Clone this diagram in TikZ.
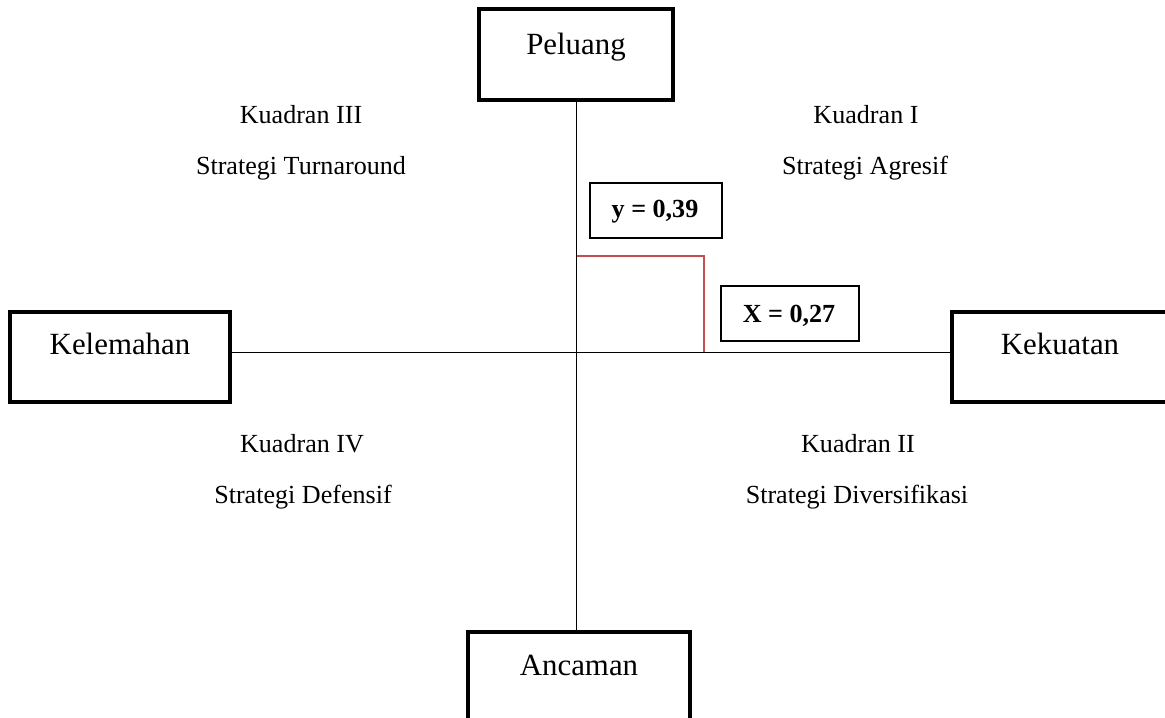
\documentclass[tikz,border=0pt]{standalone}
\usepackage{fontspec}
\setmainfont{Liberation Serif}
\usetikzlibrary{fit}
\definecolor{redline}{RGB}{192,80,77}
\tikzset{
  bigbox/.style={draw=black, line width=1.85pt, inner sep=0pt},
  valbox/.style={draw=black, line width=0.6pt, inner sep=0pt},
  bigtxt/.style={font=\fontsize{14.2}{16}\selectfont, anchor=base, inner sep=0pt},
  smalltxt/.style={font=\fontsize{12}{14}\selectfont, anchor=base, inner sep=0pt},
  valtxt/.style={font=\fontsize{12}{14}\selectfont\bfseries, anchor=base, inner sep=0pt},
  axis/.style={draw=black, line width=0.9pt},
  redaxis/.style={draw=redline, line width=0.75pt},
}
\begin{document}
\begin{tikzpicture}[x=0.46pt, y=-0.46pt]
\useasboundingbox (0,0) rectangle (1165,718);
\clip (0,0) rectangle (1165,718);
\fill[white] (0,0) rectangle (1165,718);
% origin of axes
\coordinate (O) at (576.5,352.5);
% outer boxes
\node[bigbox, fit={(479,9) (673,100)}] (pel) {};
\node[bigtxt] (pelt) at (576,55) {Peluang};
\node[bigbox, fit={(10,312) (230,402)}] (kel) {};
\node[bigtxt] (kelt) at (120,355) {Kelemahan};
\node[bigbox, fit={(952,312) (1180,402)}] (kek) {};
\node[bigtxt] (kekt) at (1060,355) {Kekuatan};
\node[bigbox, fit={(468,632) (690,722)}] (anc) {};
\node[bigtxt] (anct) at (579,675) {Ancaman};
% axes
\draw[axis] (pel.south -| O) -- (anc.north -| O);
\draw[axis] (kel.east |- O) -- (kek.west |- O);
% red lines
\coordinate (P) at (704,256);
\draw[redaxis] (P -| O) -- (P) -- (P |- O);
% value boxes
\node[valbox, fit={(590,183) (722,238)}] (ybox) {};
\node[valtxt] (yt) at (655,218) {y = 0,39};
\node[valbox, fit={(721,286) (859,341)}] (xbox) {};
\node[valtxt] (xt) at (789,322) {X = 0,27};
% quadrant labels
\node[smalltxt] (q3) at (301,124) {Kuadran III};
\node[smalltxt] (s3) at (301,175) {Strategi Turnaround};
\node[smalltxt] (q1) at (866,124) {Kuadran I};
\node[smalltxt] (s1) at (865,175) {Strategi Agresif};
\node[smalltxt] (q4) at (302,453) {Kuadran IV};
\node[smalltxt] (s4) at (303,503) {Strategi Defensif};
\node[smalltxt] (q2) at (858,453) {Kuadran II};
\node[smalltxt] (s2) at (857,503) {Strategi Diversifikasi};
\end{tikzpicture}
\end{document}
